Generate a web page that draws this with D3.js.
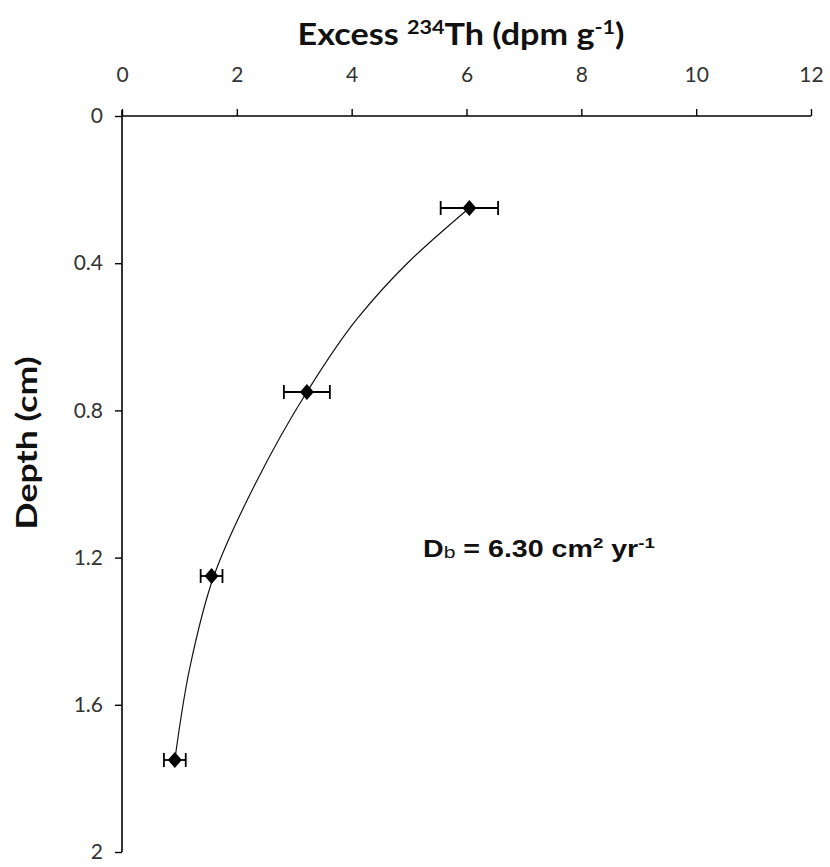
<!DOCTYPE html>
<html>
<head>
<meta charset="utf-8">
<script src="https://cdn.jsdelivr.net/npm/d3@7"></script>
<style>
  html, body { margin: 0; padding: 0; background: #fff; }
  svg { display: block; }
</style>
</head>
<body>
<svg id="chart" width="830" height="867"></svg>
<script>
// Measured excess 234Th activity by depth, with ±1σ uncertainty
const depths = [0.25, 0.75, 1.25, 1.75];
const activity = [6.05, 3.22, 1.56, 0.92];
const activityErr = [0.50, 0.40, 0.19, 0.19];

// Fitted diffusion profile (depth, activity)
const fitDepth = [0.25, 0.40, 0.55, 0.75, 1.00, 1.25, 1.50, 1.75];
const fitActivity = [6.05, 4.97, 4.10, 3.22, 2.32, 1.60, 1.18, 0.92];

const xTicks = [0, 2, 4, 6, 8, 10, 12];
const yTicks = [0, 0.4, 0.8, 1.2, 1.6, 2];

const svg = d3.select("#chart");
const plotLeft = 122, plotRight = 811, plotTop = 116, plotBottom = 852;

const x = d3.scaleLinear().domain([0, 12]).range([plotLeft, plotRight]);
const y = d3.scaleLinear().domain([0, 2]).range([plotTop, plotBottom]);

const tickFont = "Lato, 'Open Sans', sans-serif";

// Horizontal stretch factor that makes a text element span a given length
function fitLength(textSel, target) {
  const w = textSel.node().getBBox().width;
  return target / w;
}

// Top axis (ticks pointing up)
const xAxis = d3.axisTop(x).tickValues(xTicks).tickSize(7).tickPadding(27).tickFormat(d3.format("d"));
const gx = svg.append("g").attr("transform", `translate(0,${plotTop})`).call(xAxis);
gx.select(".domain").attr("d", `M${plotLeft},0H${plotRight}`).attr("stroke", "#000").attr("stroke-width", 1.6);
gx.selectAll(".tick line").attr("stroke", "#000").attr("stroke-width", 1.4);
gx.selectAll(".tick text").attr("font-family", tickFont).attr("font-size", 21).attr("fill", "#333");

// Left axis (ticks pointing left)
const yAxis = d3.axisLeft(y).tickValues(yTicks).tickSize(7).tickPadding(12).tickFormat(d => d3.format("")(d));
const gy = svg.append("g").attr("transform", `translate(${plotLeft},0)`).call(yAxis);
gy.select(".domain").attr("d", `M0,${plotTop - 6}V${plotBottom}`).attr("stroke", "#000").attr("stroke-width", 1.6);
gy.selectAll(".tick line").attr("stroke", "#000").attr("stroke-width", 1.4);
gy.selectAll(".tick text").attr("font-family", tickFont).attr("font-size", 21).attr("fill", "#333");

// Top axis title
const titleG = svg.append("g").attr("transform", "translate(461,45)");
const title = titleG.append("text")
  .attr("text-anchor", "middle")
  .attr("font-family", tickFont).attr("font-weight", "bold").attr("font-size", 30).attr("fill", "#111");
title.append("tspan").text("Excess ");
title.append("tspan").text("234").attr("font-size", 19).attr("dy", -11);
title.append("tspan").text("Th (dpm g").attr("font-size", 30).attr("dy", 11);
title.append("tspan").text("-1").attr("font-size", 19).attr("dy", -11);
title.append("tspan").text(")").attr("font-size", 30).attr("dy", 11);
title.attr("transform", `scale(${fitLength(title, 327)},1)`);

// Left axis title
const depthG = svg.append("g").attr("transform", "translate(37,443) rotate(-90)");
const depthT = depthG.append("text")
  .attr("text-anchor", "middle")
  .attr("font-family", tickFont).attr("font-weight", "bold").attr("font-size", 29).attr("fill", "#111")
  .text("Depth (cm)");
depthT.attr("transform", `scale(${fitLength(depthT, 173)},1)`);

// Fitted curve
const fitPts = fitDepth.map((d, i) => [fitActivity[i], d]);
svg.append("path")
  .datum(fitPts)
  .attr("fill", "none")
  .attr("stroke", "#111")
  .attr("stroke-width", 1.2)
  .attr("d", d3.line().x(p => x(p[0])).y(p => y(p[1])).curve(d3.curveMonotoneY));

// Error bars
const pts = depths.map((d, i) => ({ depth: d, a: activity[i], e: activityErr[i] }));
const eb = svg.append("g").attr("stroke", "#000").attr("stroke-width", 1.8);
eb.selectAll("line.bar").data(pts).join("line").attr("class", "bar")
  .attr("x1", p => x(p.a - p.e)).attr("x2", p => x(p.a + p.e))
  .attr("y1", p => y(p.depth)).attr("y2", p => y(p.depth));
eb.selectAll("line.capl").data(pts).join("line").attr("class", "capl")
  .attr("x1", p => x(p.a - p.e)).attr("x2", p => x(p.a - p.e))
  .attr("y1", p => y(p.depth) - 7).attr("y2", p => y(p.depth) + 7);
eb.selectAll("line.capr").data(pts).join("line").attr("class", "capr")
  .attr("x1", p => x(p.a + p.e)).attr("x2", p => x(p.a + p.e))
  .attr("y1", p => y(p.depth) - 7).attr("y2", p => y(p.depth) + 7);

// Diamond markers
svg.append("g").selectAll("path").data(pts).join("path")
  .attr("transform", p => `translate(${x(p.a)},${y(p.depth)})`)
  .attr("d", "M0,-8L7,0L0,8L-7,0Z")
  .attr("fill", "#000");

// Mixing coefficient annotation
const annG = svg.append("g").attr("transform", "translate(423,557)");
const ann = annG.append("text")
  .attr("font-family", "'Liberation Sans', Arial, sans-serif").attr("font-weight", "bold")
  .attr("font-size", 23).attr("fill", "#111");
ann.append("tspan").text("D");
ann.append("tspan").text("b").attr("font-size", 17).attr("font-weight", "normal").attr("dy", 1);
ann.append("tspan").text(" = 6.30 cm").attr("dy", -1);
ann.append("tspan").text("2").attr("font-size", 15).attr("dy", -9);
ann.append("tspan").text(" yr").attr("font-size", 23).attr("dy", 9);
ann.append("tspan").text("-1").attr("font-size", 15).attr("dy", -9);
ann.attr("transform", `scale(${fitLength(ann, 232)},1)`);
</script>
</body>
</html>
